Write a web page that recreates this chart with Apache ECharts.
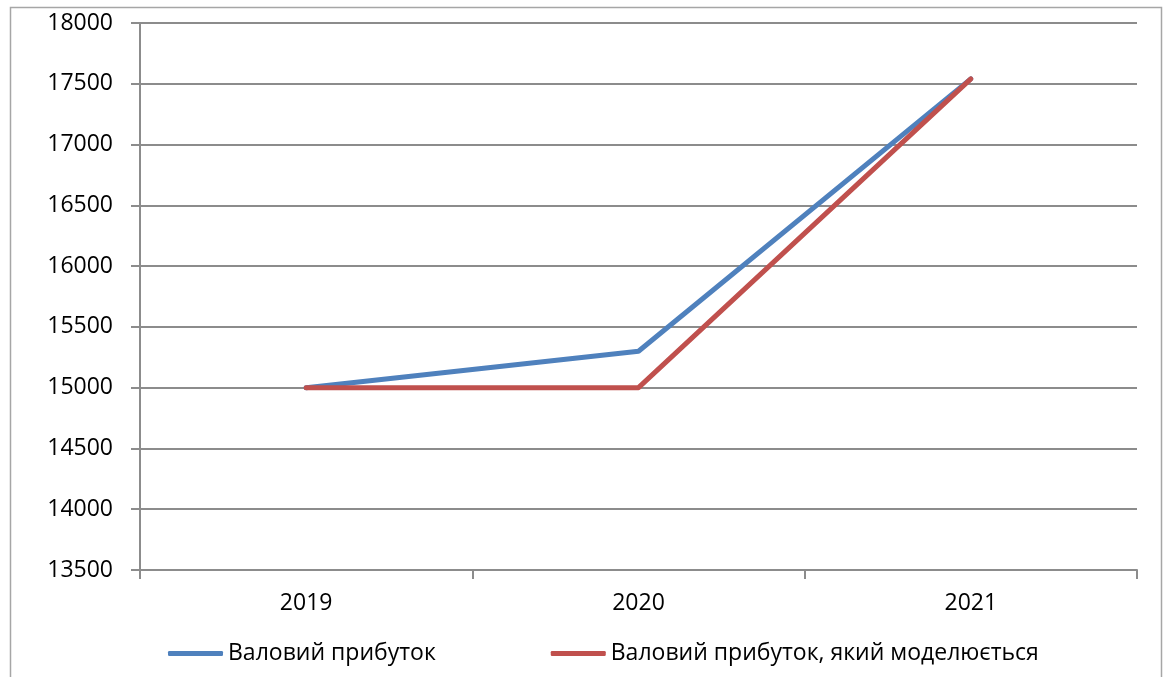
<!DOCTYPE html>
<html>
<head>
<meta charset="utf-8">
<script src="https://cdn.jsdelivr.net/npm/echarts@6/dist/echarts.min.js"></script>
<style>
  html, body { margin: 0; padding: 0; background: #fff; }
  #chart { width: 1167px; height: 677px; }
</style>
</head>
<body>
<div id="chart"></div>
<script>
// Gross profit, actual vs modelled
const years = ['2019', '2020', '2021'];
const grossProfit = [15000, 15300, 17540];
const modelledProfit = [15000, 15000, 17540];
const seriesNames = ['Валовий прибуток', 'Валовий прибуток, який моделюється'];

const chart = echarts.init(document.getElementById('chart'), null, { renderer: 'canvas' });
const FONT = '"Open Sans", "Liberation Sans", sans-serif';
const gray = '#8c8c8c';

chart.setOption({
  animation: false,
  backgroundColor: '#fff',
  graphic: [{
    type: 'rect',
    shape: { x: 10.5, y: 7.5, width: 1151, height: 700 },
    style: { fill: 'none', stroke: '#a6a6a6', lineWidth: 1.5 },
    silent: true
  }],
  grid: { left: 140, right: 30, top: 23, bottom: 107, containLabel: false },
  legend: {
    top: 642,
    left: 168,
    padding: 0,
    itemWidth: 55,
    itemHeight: 5,
    itemGap: 115,
    icon: 'roundRect',
    textStyle: { fontFamily: FONT, fontSize: 23, color: '#000' },
    data: seriesNames
  },
  xAxis: {
    type: 'category',
    data: years,
    boundaryGap: true,
    axisLine: { lineStyle: { color: gray, width: 2 } },
    axisTick: { show: true, length: 9, interval: 0, lineStyle: { color: gray, width: 2 } },
    axisLabel: { fontFamily: FONT, fontSize: 23, color: '#000', margin: 22 },
    splitLine: { show: false }
  },
  yAxis: {
    type: 'value',
    min: 13500,
    max: 18000,
    interval: 500,
    axisLine: { show: true, lineStyle: { color: gray, width: 2 } },
    axisTick: { show: true, length: 9, lineStyle: { color: gray, width: 2 } },
    axisLabel: { fontFamily: FONT, fontSize: 23, color: '#000', margin: 27, formatter: v => String(v) },
    splitLine: { show: true, lineStyle: { color: gray, width: 2 } }
  },
  series: [
    {
      name: seriesNames[0],
      type: 'line',
      data: grossProfit,
      showSymbol: false,
      symbol: 'none',
      color: '#4F81BD',
      lineStyle: { width: 5, color: '#4F81BD', cap: 'round', join: 'round' }
    },
    {
      name: seriesNames[1],
      type: 'line',
      data: modelledProfit,
      showSymbol: false,
      symbol: 'none',
      color: '#C0504D',
      lineStyle: { width: 5, color: '#C0504D', cap: 'round', join: 'round' }
    }
  ]
});
</script>
</body>
</html>
